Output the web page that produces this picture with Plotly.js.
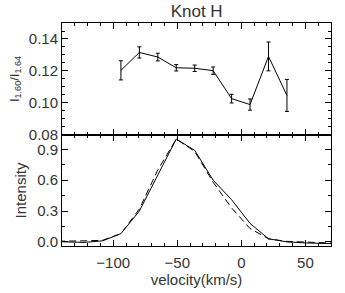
<!DOCTYPE html>
<html><head><meta charset="utf-8">
<script src="https://cdn.plot.ly/plotly-3.0.1.min.js"></script>
<style>body{margin:0;padding:0;background:#fff}#c{width:345px;height:293px}</style>
</head><body><div id="c"></div>
<script>
// Top panel: line ratio vs velocity
const ratioVel = [-94, -79.6, -65.2, -50.8, -36.4, -22, -7.6, 6.8, 21.2, 35.6];
const ratio    = [0.1204, 0.1316, 0.1287, 0.1220, 0.1217, 0.1202, 0.1027, 0.0990, 0.1291, 0.1047];
const ratioErr = [0.0060, 0.0035, 0.0024, 0.0020, 0.0020, 0.0023, 0.0027, 0.0035, 0.0090, 0.0100];
// Bottom panel: line profiles
const profVel   = [-151.6, -137.2, -122.8, -108.4, -94, -79.6, -65.2, -50.8, -36.4, -22, -7.6, 6.8, 21.2, 35.6, 50, 64.4, 78.8];
const profSolid = [0.005, 0.0, -0.005, 0.01, 0.08, 0.30, 0.65, 1.0, 0.89, 0.60, 0.41, 0.18, 0.03, 0.0, -0.01, -0.015, -0.02];
const profDash  = [0.005, 0.005, 0.01, 0.015, 0.08, 0.32, 0.70, 1.0, 0.88, 0.58, 0.33, 0.13, 0.03, 0.005, 0.0, -0.01, -0.015];
const xTickVals = [-100, -50, 0, 50];

const fnt = {family: 'Liberation Sans, Arial, sans-serif', size: 15, color: '#333'};
const axBase = {
  showline: true, linecolor: '#000', linewidth: 1, mirror: 'allticks',
  ticks: 'inside', ticklen: 6, tickcolor: '#000', tickwidth: 1,
  showgrid: false, zeroline: false, tickfont: fnt
};
const traces = [
  {x: ratioVel, y: ratio, xaxis: 'x2', yaxis: 'y2', type: 'scatter', mode: 'lines',
   line: {color: '#000', width: 1},
   error_y: {type: 'data', array: ratioErr, visible: true, color: '#000', thickness: 1, width: 2}},
  {x: profVel, y: profSolid, xaxis: 'x', yaxis: 'y', type: 'scatter', mode: 'lines',
   line: {color: '#000', width: 1}},
  {x: profVel, y: profDash, xaxis: 'x', yaxis: 'y', type: 'scatter', mode: 'lines',
   line: {color: '#000', width: 1, dash: '7px,4px'}}
];
const layout = {
  width: 345, height: 293,
  margin: {l: 62, r: 14, t: 23, b: 47},
  paper_bgcolor: '#fff', plot_bgcolor: '#fff',
  showlegend: false,
  title: {text: 'Knot H', font: {family: fnt.family, size: 17, color: '#333'}, x: 0.57, xanchor: 'center', y: 0.962, yanchor: 'middle'},
  xaxis: Object.assign({}, axBase, {range: [-140, 70], tickvals: xTickVals, anchor: 'y', ticklabelstandoff: 3,
    minor: {dtick: 10, tick0: 0, ticks: 'inside', ticklen: 3, tickcolor: '#000'},
    title: {text: 'velocity(km/s)', font: fnt, standoff: 1}}),
  yaxis: Object.assign({}, axBase, {domain: [0, 0.498], range: [-0.04, 1.04], tickvals: [0, 0.3, 0.6, 0.9],
    ticktext: ['0.0', '0.3', '0.6', '0.9'], anchor: 'x',
    minor: {dtick: 0.15, tick0: 0, ticks: 'inside', ticklen: 3, tickcolor: '#000'},
    title: {text: 'Intensity', font: fnt, standoff: 6}}),
  xaxis2: Object.assign({}, axBase, {range: [-140, 70], tickvals: xTickVals, showticklabels: false, anchor: 'y2',
    minor: {dtick: 10, tick0: 0, ticks: 'inside', ticklen: 3, tickcolor: '#000'}}),
  yaxis2: Object.assign({}, axBase, {domain: [0.498, 1], range: [0.08, 0.15], tickvals: [0.08, 0.10, 0.12, 0.14],
    ticktext: ['0.08', '0.10', '0.12', '0.14'], anchor: 'x2',
    minor: {dtick: 0.005, tick0: 0.08, ticks: 'inside', ticklen: 3, tickcolor: '#000'},
    title: {text: 'I<sub>1.60</sub>/I<sub>1.64</sub>', font: {family: fnt.family, size: 13, color: '#333'}, standoff: 6}})
};
Plotly.newPlot('c', traces, layout, {displayModeBar: false, staticPlot: true});
</script></body></html>
